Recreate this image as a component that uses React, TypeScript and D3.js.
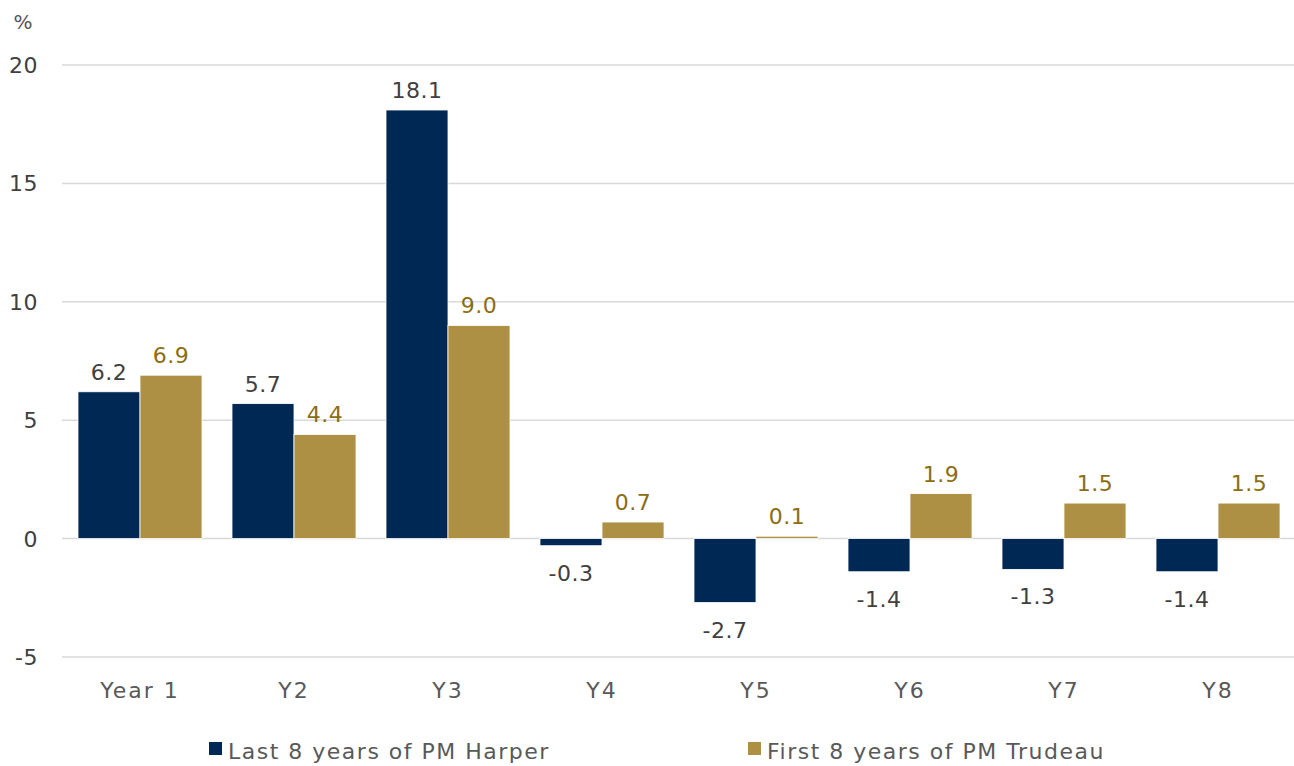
import React from "react";
import * as d3 from "d3";

const categories = ["Year 1", "Y2", "Y3", "Y4", "Y5", "Y6", "Y7", "Y8"];
const harper = [6.2, 5.7, 18.1, -0.3, -2.7, -1.4, -1.3, -1.4];
const trudeau = [6.9, 4.4, 9.0, 0.7, 0.1, 1.9, 1.5, 1.5];
const seriesNames = ["Last 8 years of PM Harper", "First 8 years of PM Trudeau"];
const yTicks = [-5, 0, 5, 10, 15, 20];
const titleText = "Annual Change in Real Program Spending";

const W = 1294;
const H = 766;
const NAVY = "#002855";
const GOLD = "#AD9044";
const GOLD_TEXT = "#8C6D12";
const GREY_TEXT = "#404040";
const FONT = "'DejaVu Sans', sans-serif";

export default function App() {
  const x = d3.scaleBand<string>().domain(categories).range([63, 1295]).paddingInner(0).paddingOuter(0);
  const y = d3.scaleLinear().domain([-5, 20]).range([657, 65]);
  const barW = 62;
  const series = [
    { name: seriesNames[0], values: harper, color: NAVY, text: GREY_TEXT },
    { name: seriesNames[1], values: trudeau, color: GOLD, text: GOLD_TEXT },
  ];

  return (
    <svg
      width={W}
      height={H}
      style={{ position: "absolute", left: 0, top: 0, background: "#fff" }}
      fontFamily={FONT}
    >
      <text x={830} y={-9} textAnchor="middle" fontFamily="'Liberation Serif', serif" fontWeight="bold" fontSize={34} fill="#0B2A55">
        {titleText}
      </text>
      <text x={23} y={29} textAnchor="middle" fontSize={20} fill="#555">%</text>
      {yTicks.map((t) => (
        <g key={t}>
          <line x1={62} x2={W} y1={y(t)} y2={y(t)} stroke="#d9d9d9" strokeWidth={1.5} />
          <text x={38} y={y(t) + 8} textAnchor="end" fontSize={22} fill={GREY_TEXT} letterSpacing={0.5}>
            {t}
          </text>
        </g>
      ))}
      {categories.map((c, i) => {
        const cx = (x(c) as number) + x.bandwidth() / 2;
        return (
          <g key={c}>
            {series.map((s, si) => {
              const v = s.values[i];
              const bx = cx - barW + si * barW;
              const top = Math.min(y(v), y(0));
              const h = Math.max(Math.abs(y(v) - y(0)), 1);
              const ly = v >= 0 ? y(v) - 12 : y(v) + 35;
              return (
                <g key={s.name}>
                  <rect x={bx} y={top} width={barW} height={h} fill={s.color} stroke="#fff" strokeWidth={0.8} />
                  <text x={bx + barW / 2} y={ly} textAnchor="middle" fontSize={22} fill={s.text} letterSpacing={0.5}>
                    {v.toFixed(1)}
                  </text>
                </g>
              );
            })}
            <text x={cx} y={698} textAnchor="middle" fontSize={22} fill="#595959" letterSpacing={2}>
              {c}
            </text>
          </g>
        );
      })}
      {series.map((s, si) => {
        const lx = si === 0 ? 209 : 748;
        return (
          <g key={s.name}>
            <rect x={lx} y={742} width={13} height={13} fill={s.color} />
            <text x={lx + 19} y={759} fontSize={22} fill="#595959" letterSpacing={1.5}>
              {s.name}
            </text>
          </g>
        );
      })}
    </svg>
  );
}
